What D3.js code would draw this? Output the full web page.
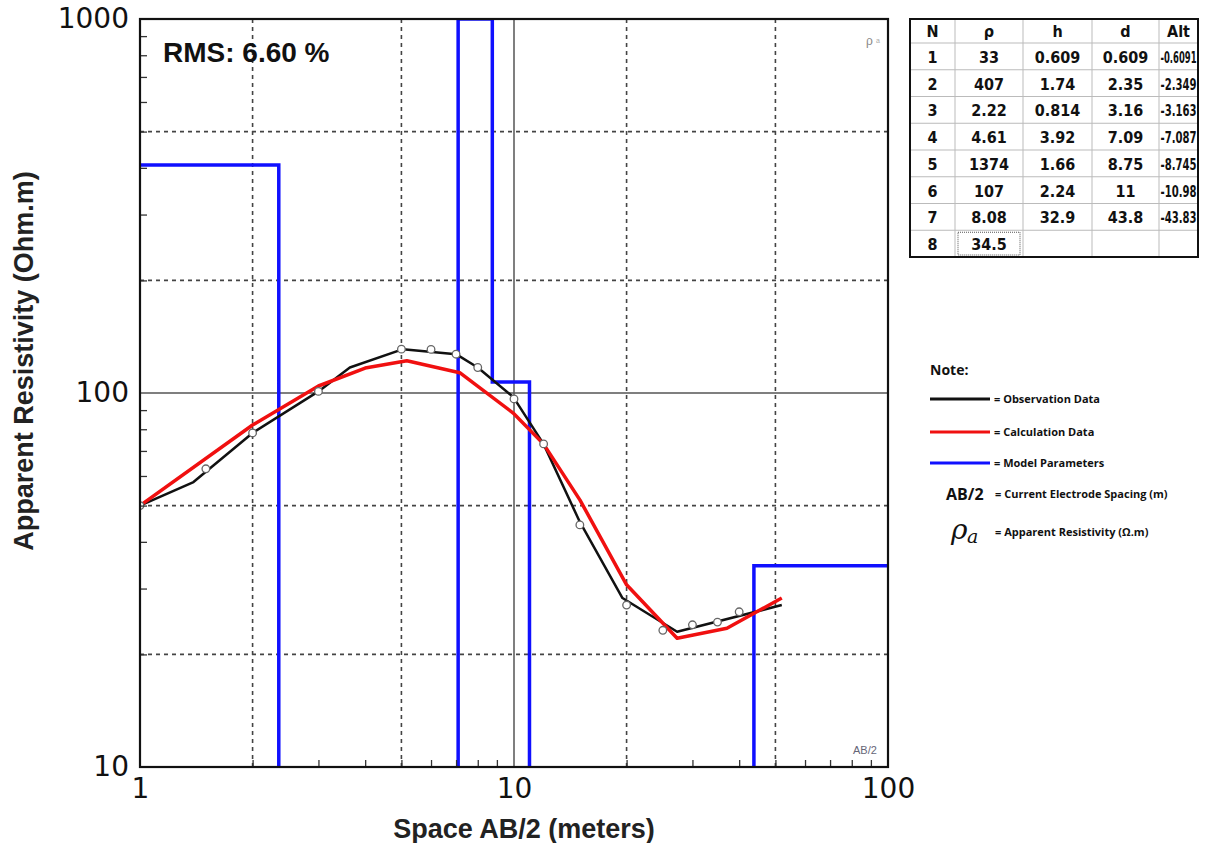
<!DOCTYPE html>
<html lang="en">
<head>
    <meta charset="UTF-8">
    <title>Resistivity sounding curve</title>
    <style>
        body { margin: 0; padding: 0; background: #fff; }
        svg { display: block; }
        .grid-dash { stroke: #444; stroke-width: 1.6px; stroke-dasharray: 4 4; fill: none; }
        .grid-solid { stroke: #555; stroke-width: 1.5px; fill: none; }
        .tick-lbl text { font-family: "DejaVu Sans", sans-serif; font-size: 28px; fill: #111; }
        .axis-title { font-family: "Liberation Sans", Arial, sans-serif; font-weight: bold; font-size: 27px; fill: #222; }
        .tbl text { font-family: "DejaVu Sans Condensed", "DejaVu Sans", sans-serif; font-weight: bold; font-size: 16px; fill: #111; }
        .note text { font-family: "Open Sans", sans-serif; font-weight: bold; font-size: 11px; fill: #111; }
    </style>
</head>
<body>
<div id="chart"></div>
<script src="https://d3js.org/d3.v7.min.js"></script>
<script>
    // observed points (circles)
    const obsAB  = [1, 1.5, 2, 3, 5, 6, 7, 8, 10, 12, 15, 20, 25, 30, 35, 40];
    const obsRho = [50, 62.7, 78.2, 101, 131, 130.8, 127, 117, 96.4, 73.1, 44.4, 27.1, 23.2, 24.0, 24.4, 26.0];

    // observed curve (black line)
    const obsCurveAB  = [1, 1.39, 2, 3, 3.64, 5.05, 7, 8, 9.95, 12, 15, 19.5, 27.3, 52];
    const obsCurveRho = [50, 57.8, 78.2, 101, 117, 131, 127, 117, 97.6, 73, 45.2, 28.3, 23.0, 27.1];

    // calculated curve (red line)
    const calcAB  = [1, 2, 3, 4, 5.17, 7.16, 9.95, 12, 15, 20, 27.3, 37.1, 52];
    const calcRho = [50, 82.1, 104.4, 116.6, 122, 113.3, 88.4, 73, 51.8, 30.7, 22.1, 23.5, 28.3];

    // layer model (table + blue line)
    const layerN   = ["1", "2", "3", "4", "5", "6", "7", "8"];
    const layerRho = ["33", "407", "2.22", "4.61", "1374", "107", "8.08", "34.5"];
    const layerH   = ["0.609", "1.74", "0.814", "3.92", "1.66", "2.24", "32.9", ""];
    const layerD   = ["0.609", "2.35", "3.16", "7.09", "8.75", "11", "43.8", ""];
    const layerAlt = ["-0.6091", "-2.349", "-3.163", "-7.087", "-8.745", "-10.98", "-43.83", ""];
    const tableHeads = ["N", "ρ", "h", "d", "Alt"];

    const xTicks = [1, 10, 100];
    const yTicks = [10, 100, 1000];
    const rmsText = "RMS: 6.60 %";

    const W = 1230, H = 843;
    const plot = { left: 140, right: 888, top: 19, bottom: 767 };

    const svg = d3.select("#chart").append("svg")
        .attr("width", W).attr("height", H);
    svg.append("rect").attr("width", W).attr("height", H).attr("fill", "#fff");

    const x = d3.scaleLog().domain([1, 100]).range([plot.left, plot.right]);
    const y = d3.scaleLog().domain([10, 1000]).range([plot.bottom, plot.top]);

    svg.append("clipPath").attr("id", "clip")
        .append("rect")
        .attr("x", plot.left).attr("y", plot.top)
        .attr("width", plot.right - plot.left).attr("height", plot.bottom - plot.top);

    // grid
    const gx = [2, 5, 20, 50], gy = [20, 50, 200, 500];
    svg.selectAll(".gvx").data(gx).enter().append("line")
        .attr("class", "grid-dash")
        .attr("x1", d => x(d)).attr("x2", d => x(d))
        .attr("y1", plot.top).attr("y2", plot.bottom);
    svg.selectAll(".gvy").data(gy).enter().append("line")
        .attr("class", "grid-dash")
        .attr("y1", d => y(d)).attr("y2", d => y(d))
        .attr("x1", plot.left).attr("x2", plot.right);
    svg.append("line").attr("class", "grid-solid")
        .attr("x1", x(10)).attr("x2", x(10)).attr("y1", plot.top).attr("y2", plot.bottom);
    svg.append("line").attr("class", "grid-solid")
        .attr("y1", y(100)).attr("y2", y(100)).attr("x1", plot.left).attr("x2", plot.right);

    const g = svg.append("g").attr("clip-path", "url(#clip)");

    // model step line
    const stepX = [0.1].concat(layerD.filter(d => d !== "").map(Number));
    const modelPts = layerRho.map((r, i) => [stepX[i], +r]);
    modelPts.push([1000, +layerRho[layerRho.length - 1]]);
    const yMax = y.domain()[1];
    g.append("path")
        .datum(modelPts)
        .attr("fill", "none")
        .attr("stroke", "#1010ff")
        .attr("stroke-width", 3.5)
        .attr("d", d3.line()
            .x(d => x(d[0]))
            .y(d => y(Math.min(d[1], yMax)))
            .curve(d3.curveStepAfter));

    // observed curve
    g.append("path")
        .datum(obsCurveAB.map((a, i) => [a, obsCurveRho[i]]))
        .attr("fill", "none")
        .attr("stroke", "#111")
        .attr("stroke-width", 2.5)
        .attr("stroke-linejoin", "round")
        .attr("d", d3.line().x(d => x(d[0])).y(d => y(d[1])));

    // calculated curve
    g.append("path")
        .datum(calcAB.map((a, i) => [a, calcRho[i]]))
        .attr("fill", "none")
        .attr("stroke", "#f01010")
        .attr("stroke-width", 3.5)
        .attr("stroke-linejoin", "round")
        .attr("d", d3.line().x(d => x(d[0])).y(d => y(d[1])));

    // observation circles
    g.selectAll(".pt")
        .data(obsAB.map((a, i) => [a, obsRho[i]]))
        .enter().append("circle")
        .attr("cx", d => x(d[0])).attr("cy", d => y(d[1]))
        .attr("r", 3.8)
        .attr("fill", "#fff")
        .attr("stroke", "#666")
        .attr("stroke-width", 1.3);

    // minor ticks
    const minorY = [], minorX = [];
    [10, 100].forEach(b => { for (let k = 2; k <= 9; k++) minorY.push(b * k); });
    [1, 10].forEach(b => { for (let k = 2; k <= 9; k++) minorX.push(b * k); });

    svg.append("g")
        .attr("transform", "translate(" + plot.left + ",0)")
        .call(d3.axisRight(y).tickValues(minorY).tickSize(7).tickFormat(""))
        .call(s => s.select(".domain").remove())
        .selectAll("line").attr("stroke", "#333").attr("stroke-width", 1.3);

    svg.append("g")
        .attr("transform", "translate(0," + plot.bottom + ")")
        .call(d3.axisTop(x).tickValues(minorX).tickSize(7).tickFormat(""))
        .call(s => s.select(".domain").remove())
        .selectAll("line").attr("stroke", "#333").attr("stroke-width", 1.3);

    // frame
    svg.append("rect")
        .attr("x", plot.left).attr("y", plot.top)
        .attr("width", plot.right - plot.left).attr("height", plot.bottom - plot.top)
        .attr("fill", "none").attr("stroke", "#111").attr("stroke-width", 2.2);

    // major tick labels
    svg.append("g").attr("class", "tick-lbl")
        .attr("transform", "translate(" + plot.left + ",0)")
        .call(d3.axisLeft(y).tickValues(yTicks).tickSize(0).tickPadding(11).tickFormat(d3.format("d")))
        .call(s => s.select(".domain").remove());

    svg.append("g").attr("class", "tick-lbl")
        .attr("transform", "translate(0," + plot.bottom + ")")
        .call(d3.axisBottom(x).tickValues(xTicks).tickSize(0).tickPadding(11).tickFormat(d3.format("d")))
        .call(s => s.select(".domain").remove());

    svg.selectAll(".tick-lbl text").attr("font-family", null).attr("font-size", null);

    // axis titles
    svg.append("text").attr("class", "axis-title")
        .attr("transform", "translate(33,361) rotate(-90)")
        .attr("text-anchor", "middle")
        .text("Apparent Resistivity (Ohm.m)");
    svg.append("text").attr("class", "axis-title")
        .attr("x", 524).attr("y", 838)
        .attr("text-anchor", "middle")
        .text("Space AB/2 (meters)");

    // RMS and small corner labels
    svg.append("text")
        .attr("x", 163).attr("y", 62)
        .attr("font-family", "Liberation Sans, Arial, sans-serif")
        .attr("font-weight", "bold").attr("font-size", 28)
        .attr("fill", "#111")
        .text(rmsText);
    svg.append("text")
        .attr("x", 866).attr("y", 45)
        .attr("font-family", "Liberation Sans, Arial, sans-serif")
        .attr("font-size", 12).attr("fill", "#888")
        .text("ρ");
    svg.append("text")
        .attr("x", 876).attr("y", 43)
        .attr("font-family", "Liberation Sans, Arial, sans-serif")
        .attr("font-size", 7).attr("fill", "#aaa")
        .text("a");
    svg.append("text")
        .attr("x", 853).attr("y", 754)
        .attr("font-family", "Liberation Sans, Arial, sans-serif")
        .attr("font-size", 11).attr("fill", "#667")
        .text("AB/2");

    // table
    const colX = [910, 955, 1023, 1092, 1159, 1198];
    const headTop = 19, headBot = 43, rowH = (257 - headBot) / layerN.length;
    const tbl = svg.append("g").attr("class", "tbl");
    const cols = [layerN, layerRho, layerH, layerD, layerAlt];

    colX.slice(1, -1).forEach(cx => {
        tbl.append("line").attr("x1", cx).attr("x2", cx)
            .attr("y1", headTop).attr("y2", 257)
            .attr("stroke", "#bbb").attr("stroke-width", 1);
    });
    for (let r = 0; r <= layerN.length; r++) {
        const yy = headBot + r * rowH;
        tbl.append("line").attr("x1", colX[0]).attr("x2", colX[5])
            .attr("y1", yy).attr("y2", yy)
            .attr("stroke", "#bbb").attr("stroke-width", 1);
    }
    tbl.append("rect")
        .attr("x", colX[0]).attr("y", headTop)
        .attr("width", colX[5] - colX[0]).attr("height", 257 - headTop)
        .attr("fill", "none").attr("stroke", "#111").attr("stroke-width", 2);

    // selected cell
    tbl.append("rect")
        .attr("x", colX[1] + 3).attr("y", headBot + 7 * rowH + 2)
        .attr("width", colX[2] - colX[1] - 6).attr("height", rowH - 4)
        .attr("fill", "none").attr("stroke", "#555").attr("stroke-width", 1)
        .attr("stroke-dasharray", "1 1");

    tableHeads.forEach((h, c) => {
        tbl.append("text")
            .attr("x", (colX[c] + colX[c + 1]) / 2).attr("y", headBot - 6)
            .attr("text-anchor", "middle")
            .text(h);
    });
    cols.forEach((col, c) => {
        col.forEach((v, r) => {
            const t = tbl.append("text")
                .attr("x", (colX[c] + colX[c + 1]) / 2)
                .attr("y", headBot + (r + 1) * rowH - 7)
                .attr("text-anchor", "middle")
                .text(v);
            const avail = colX[c + 1] - colX[c] - 3;
            if (v && t.node().getComputedTextLength() > avail) {
                t.attr("textLength", avail).attr("lengthAdjust", "spacingAndGlyphs");
            }
        });
    });

    // note / legend
    const note = svg.append("g").attr("class", "note");
    note.append("text").attr("x", 930).attr("y", 375)
        .style("font-size", "14px").text("Note:");
    const legendItems = [
        { color: "#111", y: 399, label: "= Observation Data" },
        { color: "#f01010", y: 432, label: "= Calculation Data" },
        { color: "#1010ff", y: 463, label: "= Model Parameters" }
    ];
    legendItems.forEach(d => {
        note.append("line").attr("x1", 930).attr("x2", 990)
            .attr("y1", d.y).attr("y2", d.y)
            .attr("stroke", d.color).attr("stroke-width", 3);
        note.append("text").attr("x", 994).attr("y", d.y + 4).text(d.label);
    });
    note.append("text").attr("x", 946).attr("y", 500)
        .style("font-size", "16px").text("AB/2");
    note.append("text").attr("x", 995).attr("y", 498)
        .text("= Current Electrode Spacing (m)");
    note.append("text").attr("x", 951).attr("y", 539)
        .style("font-family", "DejaVu Serif, serif").style("font-style", "italic")
        .style("font-weight", "normal").style("font-size", "28px").text("ρ");
    note.append("text").attr("x", 967).attr("y", 543)
        .style("font-family", "DejaVu Serif, serif").style("font-style", "italic")
        .style("font-weight", "normal").style("font-size", "19px").text("a");
    note.append("text").attr("x", 995).attr("y", 536)
        .text("= Apparent Resistivity (Ω.m)");
</script>
</body>
</html>
